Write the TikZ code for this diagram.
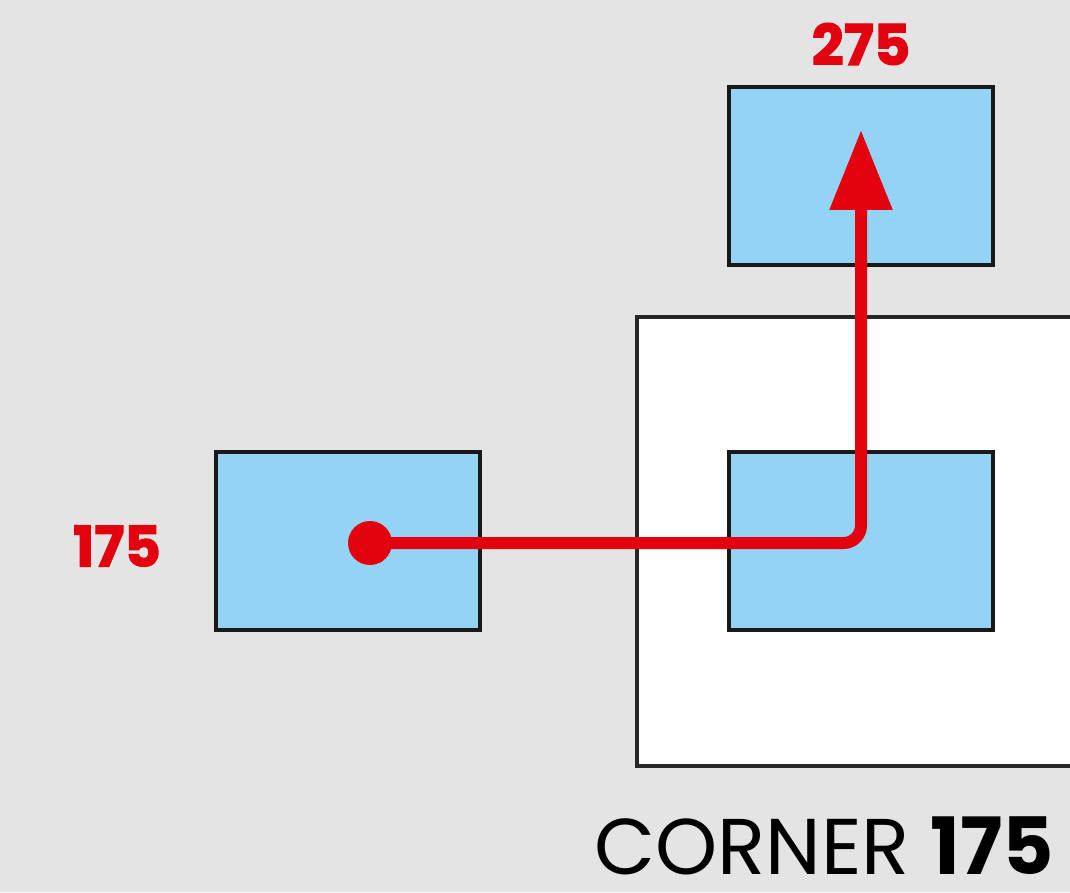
\documentclass[tikz,border=0pt]{standalone}
\usepackage{fontspec}
\setmainfont{Poppins}
\newfontfamily\heavyfont{Poppins}[BoldFeatures={FakeBold=2}]
\usetikzlibrary{arrows.meta}

\definecolor{bggray}{HTML}{E4E4E4}
\definecolor{cellblue}{HTML}{93D3F3}
\definecolor{pathred}{HTML}{E3000F}

\begin{document}
\begin{tikzpicture}[
					x=0.02cm, y=-0.02cm,
					cell/.style={draw=black!90, line width=2.6pt, fill=cellblue, minimum width=5.28cm, minimum height=3.56cm, inner sep=0pt},
					frame/.style={draw=black!85, line width=2.3pt, fill=white},
					route/.style={draw=pathred, line width=0.24cm, rounded corners=0.35cm, -{Triangle[width=1.2cm, length=1.6cm]}},
					num/.style={text=pathred, font=\heavyfont\bfseries\fontsize{32}{32}\selectfont}
				]
				% Parámetros de geometría
				\def\W{1070}     % ancho total
				\def\H{892}      % alto total

				% --- Fondo ---
				\fill[bggray] (0,0) rectangle (\W,\H);
				\useasboundingbox (0,0) rectangle (\W,\H);
				\clip (0,0) rectangle (\W,\H);

				% --- Cuadro blanco ---
				\draw[frame] (637,317) rectangle (1090,766);

				% --- Celdas ---
				\node[cell] (top) at (861,176) {};
				\node[cell] (left) at (348,541) {};
				\node[cell] (mid) at (861,541) {};

				% --- Etiquetas ---
				\node[num] (lbltop) at (861,44) {275};
				\node[num] (lblleft) at (117,546) {175};
				\node[anchor=base west, inner sep=0pt, font=\fontsize{45}{45}\selectfont] (caption) at (594,874) {CORNER \textbf{175}};

				% --- Recorrido ---
				\coordinate (start) at (370,543);
				\coordinate (bend) at (861,543);
				\coordinate (tip) at (861,130);
				\draw[route] (start) -- (bend) -- (tip);
				\fill[pathred] (start) circle (0.44cm);

			\end{tikzpicture}
\end{document}
